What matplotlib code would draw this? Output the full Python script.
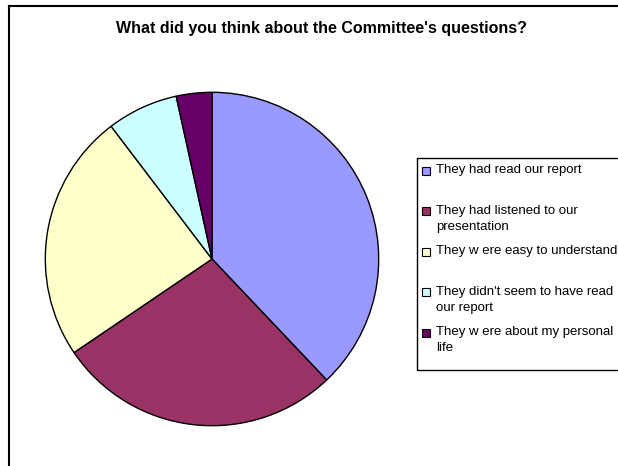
import matplotlib
matplotlib.use('Agg')
import matplotlib.pyplot as plt
from matplotlib.patches import Rectangle
from matplotlib.lines import Line2D

plt.rcParams['font.family'] = ['Liberation Sans', 'DejaVu Sans']

# Survey answers
labels = [
    "They had read our report",
    "They had listened to our\npresentation",
    "They w ere easy to understand",
    "They didn't seem to have read\nour report",
    "They w ere about my personal\nlife",
]
counts = [11, 8, 7, 2, 1]
colors = ['#9999FF', '#993366', '#FFFFCC', '#CCFFFF', '#660066']

W, H = 618, 466
fig = plt.figure(figsize=(W / 100, H / 100), dpi=100)


def fx(px):
    return px / W


def fy(py):
    # py measured from the top edge
    return 1 - py / H


# pie: centre (212, 259), radius ~167 px
cx, cy, r = 212, 259, 166.7
ax = fig.add_axes([fx(cx - r), fy(cy + r), 2 * r / W, 2 * r / H])
ax.pie(counts, colors=colors, startangle=90, counterclock=False,
       wedgeprops=dict(edgecolor='black', linewidth=1.0))
ax.set_xlim(-1, 1)
ax.set_ylim(-1, 1)
ax.set_aspect('equal')
ax.axis('off')

# chart frame (only top and left edges fall inside the image)
fig.add_artist(Line2D([fx(8.5), fx(8.5)], [fy(5.5), 0], color='black', lw=1.5))
fig.add_artist(Line2D([fx(8.5), 1], [fy(5.5), fy(5.5)], color='black', lw=1.5))

fig.text(fx(321), fy(29), "What did you think about the Committee's questions?",
         ha='center', va='center', fontsize=11.5, fontweight='bold')

# legend box, cut off at the right edge
fig.add_artist(Rectangle((fx(417), fy(370)), fx(640 - 417), (370 - 158) / H,
                         transform=fig.transFigure, facecolor='white',
                         edgecolor='black', lw=1.0))

y0, step = 170.5, 40.6
for i, (lab, col) in enumerate(zip(labels, colors)):
    y = y0 + i * step
    fig.add_artist(Rectangle((fx(422), fy(y + 4)), 8 / W, 8 / H,
                             transform=fig.transFigure, facecolor=col,
                             edgecolor='black', lw=0.8))
    fig.text(fx(436.5), fy(y - 6.5), lab, ha='left', va='top', fontsize=9.5,
             linespacing=1.45)

fig.savefig('out.png', dpi=100)
